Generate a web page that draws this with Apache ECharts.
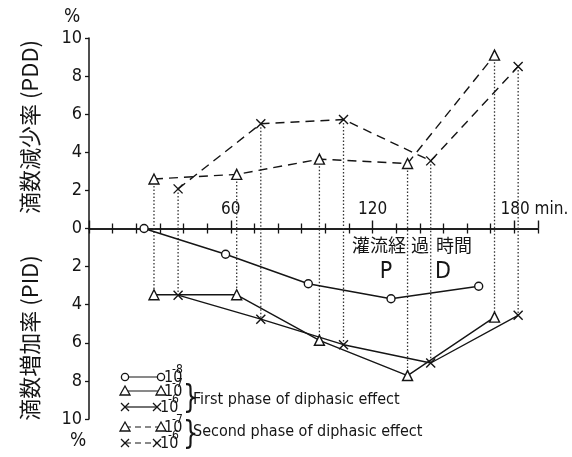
<!DOCTYPE html>
<html>
<head>
<meta charset="utf-8">
<script src="https://cdn.jsdelivr.net/npm/echarts@6/dist/echarts.min.js"></script>
<style>
  html, body { margin: 0; padding: 0; background: #fff; }
  #chart { width: 572px; height: 457px; }
</style>
</head>
<body>
<div id="chart"></div>
<script>
// Perfusion time (min) at which each concentration was measured
const timesC8 = [23.3, 57.8, 92.8, 127.8, 164.9];
const timesC7 = [27.5, 62.5, 97.5, 134.8, 171.6];
const timesC6 = [37.7, 72.7, 107.7, 144.6, 181.6];

// PID: percent increase of drop count, first phase (plotted below zero)
const pidC8 = [0, 1.35, 2.9, 3.69, 3.03];
const pidC7 = [3.48, 3.48, 5.87, 7.72, 4.65];
const pidC6 = [3.5, 4.76, 6.1, 7.06, 4.56];

// PDD: percent decrease of drop count, second phase (plotted above zero)
const pddC7 = [2.6, 2.84, 3.64, 3.41, 9.1];
const pddC6 = [2.08, 5.5, 5.72, 3.55, 8.5];

// Labelled time ticks
const timeTickLabels = { 60: '60', 120: '120', 180: '180' };

const INK = '#151515';
const NUM_FONT = '"Liberation Sans Narrow", "DejaVu Sans Condensed", sans-serif';
const CJK_FONT = '"Noto Sans CJK JP", sans-serif';
const TEXT_FONT = '"DejaVu Sans Condensed", "Liberation Sans Narrow", sans-serif';

const GRID = { left: 89, top: 38, width: 449, height: 381 };

const below = (ts, vs) => ts.map((t, i) => [t, -vs[i]]);
const above = (ts, vs) => ts.map((t, i) => [t, vs[i]]);

// Dotted connectors joining the two phases measured at the same time
function connectors(ts, up, down) {
  const out = [];
  ts.forEach((t, i) => {
    out.push([t, up[i]], [t, -down[i]], [t, null]);
  });
  return out;
}

const crossSymbol = 'path://M0,0L10,10M10,0L0,10';
const markerStyle = { color: '#fff', borderColor: INK, borderWidth: 1.4 };

function series(name, data, symbol, size, dashed) {
  return {
    name, type: 'line', data, symbol, symbolSize: size,
    lineStyle: { color: INK, width: 1.4, type: dashed ? [9, 6] : 'solid' },
    itemStyle: markerStyle,
    z: 3, animation: false
  };
}

// ---- legend (hand-drawn key with braces) ----
function markerGraphic(kind, x, y) {
  if (kind === 'circle') {
    return { type: 'circle', shape: { cx: x, cy: y, r: 3.6 }, style: { fill: '#fff', stroke: INK, lineWidth: 1.3 }, z: 20 };
  }
  if (kind === 'triangle') {
    return { type: 'polygon', shape: { points: [[x - 5, y + 4], [x + 5, y + 4], [x, y - 5]] }, style: { fill: '#fff', stroke: INK, lineWidth: 1.3 }, z: 20 };
  }
  return { type: 'group', z: 20, children: [
    { type: 'line', shape: { x1: x - 4, y1: y - 4, x2: x + 4, y2: y + 4 }, style: { stroke: INK, lineWidth: 1.3 } },
    { type: 'line', shape: { x1: x + 4, y1: y - 4, x2: x - 4, y2: y + 4 }, style: { stroke: INK, lineWidth: 1.3 } }
  ] };
}
const legendRows = [
  { kind: 'circle', y: 377, dashed: false, exp: '-8', x2: 161, tx: 164 },
  { kind: 'triangle', y: 391, dashed: false, exp: '-7', x2: 161, tx: 164 },
  { kind: 'cross', y: 407, dashed: false, exp: '-6', x2: 157, tx: 160 },
  { kind: 'triangle', y: 427, dashed: true, exp: '-7', x2: 161, tx: 164 },
  { kind: 'cross', y: 443, dashed: true, exp: '-6', x2: 157, tx: 160 }
];
const legendGraphics = [];
legendRows.forEach(r => {
  legendGraphics.push({ type: 'line', shape: { x1: 125, y1: r.y, x2: r.x2, y2: r.y },
    style: { stroke: INK, lineWidth: 1.2, lineDash: r.dashed ? [6, 4] : null }, z: 19 });
  legendGraphics.push(markerGraphic(r.kind, 125, r.y));
  legendGraphics.push(markerGraphic(r.kind, r.x2, r.y));
  legendGraphics.push({ type: 'text', x: r.tx, y: r.y + 1, z: 20,
    style: { text: '10', font: '16px ' + NUM_FONT, fill: INK, textVerticalAlign: 'middle' } });
  legendGraphics.push({ type: 'text', x: r.tx + 8, y: r.y - 7, z: 20,
    style: { text: r.exp, font: '12px ' + NUM_FONT, fill: INK, textVerticalAlign: 'middle' } });
});
legendGraphics.push(
  { type: 'text', x: 183, y: 399, scaleY: 1.35, z: 20,
    style: { text: '}', font: '24px "DejaVu Sans", sans-serif', fill: INK, textVerticalAlign: 'middle' } },
  { type: 'text', x: 193, y: 400, z: 20,
    style: { text: 'First phase of diphasic effect', font: '16px ' + TEXT_FONT, fill: INK, textVerticalAlign: 'middle' } },
  { type: 'text', x: 183, y: 435, scaleY: 1.35, z: 20,
    style: { text: '}', font: '24px "DejaVu Sans", sans-serif', fill: INK, textVerticalAlign: 'middle' } },
  { type: 'text', x: 193, y: 432, z: 20,
    style: { text: 'Second phase of diphasic effect', font: '16px ' + TEXT_FONT, fill: INK, textVerticalAlign: 'middle' } }
);

// ---- axis titles and annotations ----
const annotations = [
  { type: 'text', x: 30, y: 127, rotation: Math.PI / 2, z: 20,
    style: { text: '滴数減少率 (PDD)', font: '22px ' + CJK_FONT, fill: INK, textAlign: 'center', textVerticalAlign: 'middle' } },
  { type: 'text', x: 30, y: 338, rotation: Math.PI / 2, z: 20,
    style: { text: '滴数増加率 (PID)', font: '22px ' + CJK_FONT, fill: INK, textAlign: 'center', textVerticalAlign: 'middle' } },
  { type: 'text', x: 72, y: 17, z: 20,
    style: { text: '%', font: '19px ' + NUM_FONT, fill: INK, textAlign: 'center', textVerticalAlign: 'middle' } },
  { type: 'text', x: 78, y: 441, z: 20,
    style: { text: '%', font: '19px ' + NUM_FONT, fill: INK, textAlign: 'center', textVerticalAlign: 'middle' } },
  { type: 'text', x: 352, y: 245, z: 20,
    style: { text: '灌流経', font: '18px ' + CJK_FONT, fill: INK, textVerticalAlign: 'middle' } },
  { type: 'text', x: 411, y: 245, z: 20,
    style: { text: '過', font: '18px ' + CJK_FONT, fill: INK, textVerticalAlign: 'middle' } },
  { type: 'text', x: 436, y: 245, z: 20,
    style: { text: '時間', font: '18px ' + CJK_FONT, fill: INK, textVerticalAlign: 'middle' } },
  { type: 'text', x: 386, y: 272, z: 20,
    style: { text: 'P', font: '23px ' + NUM_FONT, fill: INK, textAlign: 'center', textVerticalAlign: 'middle' } },
  { type: 'text', x: 443, y: 272, z: 20,
    style: { text: 'D', font: '23px ' + NUM_FONT, fill: INK, textAlign: 'center', textVerticalAlign: 'middle' } }
];

const chart = echarts.init(document.getElementById('chart'), null, { renderer: 'canvas' });

const xBase = { type: 'value', min: 0, max: 190, splitLine: { show: false }, gridIndex: 0 };

chart.setOption({
  backgroundColor: '#fff',
  animation: false,
  grid: Object.assign({ containLabel: false }, GRID),
  xAxis: [
    // time axis on the zero line, ticks hanging below it
    Object.assign({}, xBase, {
      position: 'bottom', interval: 10,
      axisLine: { onZero: true, lineStyle: { color: INK, width: 1.5 } },
      axisTick: { length: 5, lineStyle: { color: INK, width: 1.3 } },
      axisLabel: { show: false }
    }),
    // same time axis shifted down onto the zero line: upper ticks and hour labels
    Object.assign({}, xBase, {
      position: 'top', interval: 60, offset: -GRID.height / 2,
      axisLine: { onZero: false, lineStyle: { color: INK, width: 1.5 } },
      axisTick: { length: 8, lineStyle: { color: INK, width: 1.4 } },
      minorTick: { show: true, splitNumber: 6, length: 5, lineStyle: { color: INK, width: 1.3 } },
      axisLabel: {
        margin: 10, color: INK, fontFamily: NUM_FONT, fontSize: 17,
        formatter: v => {
          const s = timeTickLabels[v];
          if (!s) return '';
          return v === 180 ? '{pad|}' + s + ' min.' : s;
        },
        rich: { pad: { width: 40 } }
      }
    })
  ],
  yAxis: {
    type: 'value', min: -10, max: 10, interval: 2,
    axisLine: { show: true, onZero: false, lineStyle: { color: INK, width: 1.5 } },
    axisTick: { show: true, length: 4, lineStyle: { color: INK, width: 1.3 } },
    splitLine: { show: false },
    axisLabel: { margin: 7, color: INK, fontFamily: NUM_FONT, fontSize: 18, formatter: v => String(Math.abs(v)) }
  },
  series: [
    {
      name: 'connectors', type: 'line', xAxisIndex: 0,
      data: connectors(timesC7, pddC7, pidC7).concat(connectors(timesC6, pddC6, pidC6)),
      symbol: 'none', connectNulls: false,
      lineStyle: { color: '#333', width: 1.3, type: [1.5, 2] }, z: 1, silent: true
    },
    series('1e-8 first phase', below(timesC8, pidC8), 'circle', 8, false),
    series('1e-7 first phase', below(timesC7, pidC7), 'triangle', 10, false),
    series('1e-6 first phase', below(timesC6, pidC6), crossSymbol, 9, false),
    series('1e-7 second phase', above(timesC7, pddC7), 'triangle', 10, true),
    series('1e-6 second phase', above(timesC6, pddC6), crossSymbol, 9, true)
  ],
  graphic: annotations.concat(legendGraphics)
});
</script>
</body>
</html>
